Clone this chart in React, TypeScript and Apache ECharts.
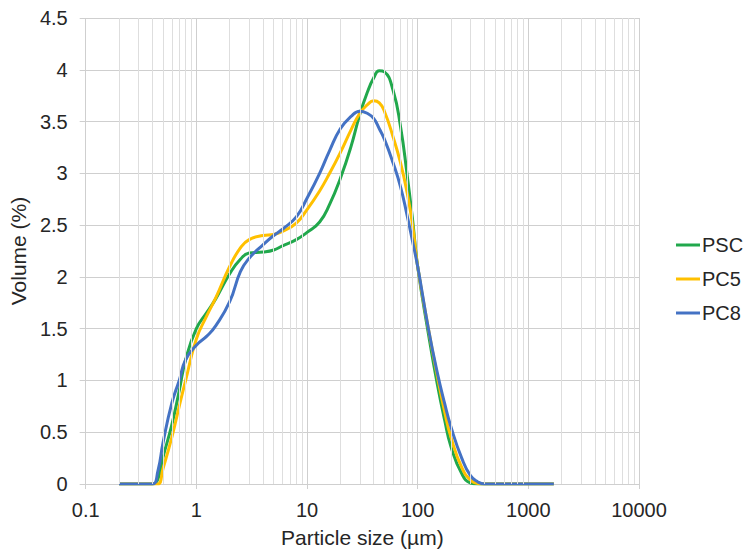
import { useEffect, useRef } from "react";
import * as echarts from "echarts";

// Particle size (µm) grid
const sizes = [
  0.2, 0.3, 0.4, 0.45, 0.5, 0.6, 0.7, 0.8, 1, 1.25, 1.5, 2, 2.5, 3, 4, 5, 6, 8, 10, 13, 16, 20, 25, 30, 35,
  40, 45, 50, 60, 70, 80, 90, 100, 125, 150, 175, 200, 250, 300, 350, 400, 600, 1000, 1700,
];

// Volume (%) per series
const psc = [
  0, 0, 0, 0.05, 0.26, 0.57, 0.9, 1.2, 1.5, 1.66, 1.79, 2.03, 2.17, 2.23, 2.24, 2.26, 2.3, 2.36, 2.43, 2.53,
  2.7, 2.95, 3.26, 3.57, 3.78, 3.92, 3.99, 3.98, 3.8, 3.45, 3.0, 2.55, 2.1, 1.45, 0.97, 0.62, 0.36, 0.1, 0.01,
  0, 0, 0, 0, 0,
];
const pc5 = [
  0, 0, 0, 0, 0.15, 0.45, 0.75, 1.0, 1.4, 1.63, 1.8, 2.1, 2.28, 2.36, 2.4, 2.41, 2.44, 2.52, 2.65, 2.83, 3.0,
  3.2, 3.42, 3.58, 3.66, 3.7, 3.68, 3.6, 3.35, 3.1, 2.82, 2.5, 2.1, 1.5, 1.05, 0.7, 0.45, 0.16, 0.04, 0.005, 0,
  0, 0, 0,
];
const pc8 = [
  0, 0, 0, 0.13, 0.4, 0.78, 1.0, 1.2, 1.34, 1.43, 1.53, 1.76, 2.05, 2.18, 2.31, 2.4, 2.46, 2.58, 2.76, 3.0,
  3.22, 3.43, 3.55, 3.6, 3.58, 3.53, 3.43, 3.33, 3.1, 2.87, 2.6, 2.34, 2.1, 1.5, 1.08, 0.78, 0.55, 0.25, 0.08,
  0.02, 0, 0, 0, 0,
];

const seriesNames = ["PSC", "PC5", "PC8"];
const seriesColors = ["#21a84c", "#ffc000", "#4472c4"];

// minor (2..9 per decade) vertical grid positions
const minorTicks = [
  0.2, 0.3, 0.4, 0.5, 0.6, 0.7, 0.8, 0.9, 2, 3, 4, 5, 6, 7, 8, 9, 20, 30, 40, 50, 60, 70, 80, 90, 200, 300,
  400, 500, 600, 700, 800, 900, 2000, 3000, 4000, 5000, 6000, 7000, 8000, 9000,
];

const FONT = "'Liberation Sans', Arial, sans-serif";

export default function App() {
  const ref = useRef<HTMLDivElement>(null);
  useEffect(() => {
    if (!ref.current) return;
    const chart = echarts.init(ref.current, null, { renderer: "svg" });
    const values = [psc, pc5, pc8];
    const lines = values.map((vals, i) => ({
      name: seriesNames[i],
      type: "line",
      data: sizes.map((s, j) => [s, vals[j]]),
      smooth: 0.5,
      showSymbol: false,
      symbol: "none",
      z: 3,
      lineStyle: { color: seriesColors[i], width: 3 },
      itemStyle: { color: seriesColors[i] },
    }));
    chart.setOption({
      animation: false,
      textStyle: { fontFamily: FONT },
      grid: { left: 82, right: 109, top: 18, bottom: 69 },
      legend: {
        orient: "vertical",
        left: 671,
        top: 230,
        icon: "rect",
        itemWidth: 24,
        itemHeight: 3,
        itemGap: 14,
        data: seriesNames,
        textStyle: { fontSize: 20, color: "#262626", fontFamily: FONT, padding: [0, 0, 0, -3] },
      },
      xAxis: {
        type: "log",
        logBase: 10,
        min: 0.1,
        max: 10000,
        interval: 1,
        name: "Particle size (µm)",
        nameLocation: "middle",
        nameGap: 43,
        nameTextStyle: { fontSize: 21, color: "#262626", fontFamily: FONT },
        axisLine: { show: false },
        axisTick: { show: true, length: 5, lineStyle: { color: "#cfcfcf" } },
        axisLabel: {
          fontSize: 20,
          color: "#262626",
          margin: 16,
          fontFamily: FONT,
          formatter: (v: number) => String(+v.toPrecision(6)),
        },
        splitLine: { show: true, lineStyle: { color: "#cfcfcf", width: 1 } },
      },
      yAxis: {
        type: "value",
        min: 0,
        max: 4.5,
        interval: 0.5,
        name: "Volume (%)",
        nameLocation: "middle",
        nameGap: 54,
        nameTextStyle: { fontSize: 21, color: "#262626", fontFamily: FONT },
        axisLine: { show: false },
        axisTick: { show: true, length: 6, lineStyle: { color: "#cfcfcf" } },
        axisLabel: { fontSize: 20, color: "#262626", margin: 18, fontFamily: FONT },
        splitLine: { show: true, lineStyle: { color: "#cfcfcf", width: 1 } },
      },
      series: [
        {
          name: "minor-grid",
          type: "line",
          data: [],
          z: 1,
          silent: true,
          markLine: {
            silent: true,
            symbol: ["none", "none"],
            label: { show: false },
            lineStyle: { color: "#dedede", type: "solid", width: 1 },
            emphasis: { disabled: true },
            data: minorTicks.map((v) => ({ xAxis: v })),
          },
        },
        ...lines,
      ],
    });
    return () => chart.dispose();
  }, []);
  return (
    <div
      ref={ref}
      style={{ position: "fixed", left: 0, top: 0, width: 748, height: 553, background: "#fff" }}
    />
  );
}
